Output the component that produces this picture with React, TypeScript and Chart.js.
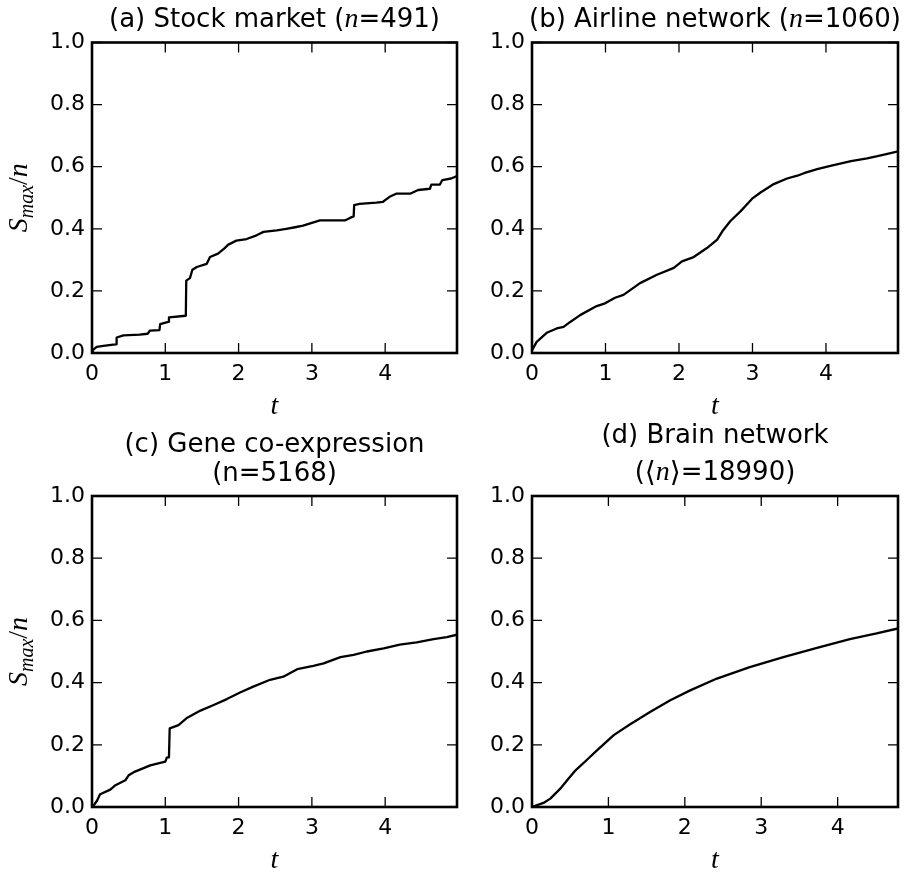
import React, { useEffect, useRef } from 'react';
import { Chart, registerables } from 'chart.js';

Chart.register(...registerables);

// ---------- data ----------
const X_TICKS = [0, 1, 2, 3, 4];
const Y_TICKS = [0, 0.2, 0.4, 0.6, 0.8, 1.0];

// (a) Stock market
const T_A = [0, 0.01, 0.064, 0.155, 0.29, 0.33, 0.336, 0.43, 0.65, 0.76, 0.79, 0.92, 0.93, 1.04, 1.05, 1.28, 1.286, 1.336, 1.37, 1.43, 1.564, 1.61, 1.72, 1.81, 1.86, 1.97, 2.11, 2.245, 2.34, 2.52, 2.65, 2.77, 2.88, 3.0, 3.11, 3.45, 3.52, 3.57, 3.577, 3.65, 3.88, 3.97, 4.06, 4.15, 4.34, 4.45, 4.61, 4.63, 4.745, 4.78, 4.9, 4.98];
const S_A = [0.005, 0.009, 0.02, 0.023, 0.027, 0.028, 0.05, 0.057, 0.059, 0.062, 0.072, 0.074, 0.093, 0.1, 0.115, 0.12, 0.233, 0.241, 0.268, 0.277, 0.287, 0.309, 0.32, 0.338, 0.349, 0.362, 0.367, 0.379, 0.39, 0.395, 0.4, 0.405, 0.41, 0.419, 0.427, 0.427, 0.435, 0.44, 0.476, 0.48, 0.484, 0.487, 0.503, 0.513, 0.513, 0.525, 0.529, 0.542, 0.542, 0.557, 0.562, 0.57];

// (b) Airline network
const T_B = [0, 0.064, 0.2, 0.336, 0.43, 0.52, 0.655, 0.88, 0.995, 1.13, 1.245, 1.47, 1.7, 1.93, 2.04, 2.2, 2.38, 2.52, 2.59, 2.7, 2.84, 2.995, 3.11, 3.29, 3.47, 3.61, 3.7, 3.88, 4.06, 4.34, 4.56, 4.7, 4.88, 4.99];
const S_B = [0.009, 0.036, 0.065, 0.079, 0.084, 0.1, 0.122, 0.151, 0.16, 0.178, 0.187, 0.225, 0.252, 0.274, 0.295, 0.309, 0.338, 0.365, 0.392, 0.425, 0.457, 0.497, 0.517, 0.544, 0.562, 0.571, 0.579, 0.592, 0.603, 0.618, 0.627, 0.634, 0.644, 0.65];

// (c) Gene co-expression
const T_C = [0, 0.014, 0.07, 0.11, 0.25, 0.32, 0.455, 0.5, 0.57, 0.795, 1.0, 1.02, 1.05, 1.06, 1.18, 1.3, 1.48, 1.66, 1.84, 2.02, 2.2, 2.43, 2.61, 2.8, 3.02, 3.16, 3.39, 3.57, 3.75, 3.98, 4.2, 4.43, 4.66, 4.84, 4.98];
const S_C = [0, 0.002, 0.021, 0.041, 0.056, 0.07, 0.086, 0.102, 0.112, 0.134, 0.146, 0.159, 0.16, 0.253, 0.263, 0.287, 0.31, 0.328, 0.347, 0.368, 0.387, 0.409, 0.419, 0.443, 0.454, 0.462, 0.482, 0.489, 0.5, 0.51, 0.522, 0.529, 0.54, 0.546, 0.554];

// (d) Brain network
const T_D = [0, 0.15, 0.24, 0.37, 0.46, 0.57, 0.72, 0.85, 1.07, 1.285, 1.55, 1.81, 2.07, 2.42, 2.85, 3.29, 3.73, 4.16, 4.51, 4.79];
const S_D = [0, 0.013, 0.027, 0.059, 0.086, 0.118, 0.152, 0.182, 0.231, 0.266, 0.306, 0.343, 0.375, 0.413, 0.45, 0.482, 0.512, 0.54, 0.558, 0.574];

const X_MAX_ABC = 4.98;
const X_MAX_D = 4.79;

// ---------- styles ----------
const TITLE_FONT = '26px "DejaVu Sans"';
const MATH_FONT = 'italic 28px "Liberation Serif"';
const BRACKET_FONT = '28px "DejaVu Serif"';
const SUB_FONT = 'italic 20px "Liberation Serif"';
const TICK_FONT = { family: 'DejaVu Sans', size: 22 };

type Run = { t: string; f: string; dy?: number };

function drawRuns(ctx: CanvasRenderingContext2D, runs: Run[], cx: number, baseline: number) {
  let total = 0;
  for (const r of runs) {
    ctx.font = r.f;
    total += ctx.measureText(r.t).width;
  }
  let x = cx - total / 2;
  ctx.textAlign = 'left';
  ctx.textBaseline = 'alphabetic';
  for (const r of runs) {
    ctx.font = r.f;
    ctx.fillText(r.t, x, baseline + (r.dy || 0));
    x += ctx.measureText(r.t).width;
  }
}

const decoPlugin = {
  id: 'deco',
  afterDatasetsDraw(chart: any) {
    const { ctx, chartArea: a, scales } = chart;
    ctx.save();
    ctx.strokeStyle = '#000';
    ctx.lineWidth = 1.3;
    ctx.beginPath();
    for (const v of X_TICKS) {
      const x = scales.x.getPixelForValue(v);
      ctx.moveTo(x, a.bottom);
      ctx.lineTo(x, a.bottom - 10);
      ctx.moveTo(x, a.top);
      ctx.lineTo(x, a.top + 10);
    }
    for (const v of Y_TICKS) {
      const y = scales.y.getPixelForValue(v);
      ctx.moveTo(a.left, y);
      ctx.lineTo(a.left + 10, y);
      ctx.moveTo(a.right, y);
      ctx.lineTo(a.right - 10, y);
    }
    ctx.stroke();
    ctx.lineWidth = 2.6;
    ctx.strokeRect(a.left, a.top, a.right - a.left, a.bottom - a.top);
    ctx.restore();
  },
  afterDraw(chart: any, _args: any, opts: any) {
    const { ctx, chartArea: a } = chart;
    const cx = (a.left + a.right) / 2;
    ctx.save();
    ctx.fillStyle = '#000';
    for (const line of opts.titles || []) {
      drawRuns(ctx, line.runs, cx, line.y);
    }
    // x label
    drawRuns(ctx, [{ t: 't', f: MATH_FONT }], cx, a.bottom + 61);
    // y label
    if (opts.yLabelX != null) {
      ctx.save();
      ctx.translate(opts.yLabelX, (a.top + a.bottom) / 2);
      ctx.rotate(-Math.PI / 2);
      drawRuns(
        ctx,
        [
          { t: 'S', f: MATH_FONT },
          { t: 'max', f: SUB_FONT, dy: 6 },
          { t: '/', f: MATH_FONT.replace('italic ', '') },
          { t: 'n', f: MATH_FONT },
        ],
        0,
        0
      );
      ctx.restore();
    }
    ctx.restore();
  },
};

type PanelCfg = {
  box: { x: number; y: number; w: number; h: number };
  plot: { L: number; R: number; T: number; B: number };
  xMax: number;
  t: number[];
  s: number[];
  titles: { runs: Run[]; y: number }[];
  yLabelX: number | null;
};

const PANELS: PanelCfg[] = [
  {
    box: { x: 0, y: 0, w: 460, h: 420 },
    plot: { L: 92, R: 457, T: 42.5, B: 353 },
    xMax: X_MAX_ABC,
    t: T_A,
    s: S_A,
    titles: [
      {
        runs: [
          { t: '(a) Stock market (', f: TITLE_FONT },
          { t: 'n', f: MATH_FONT },
          { t: '=491)', f: TITLE_FONT },
        ],
        y: 26.5,
      },
    ],
    yLabelX: 27,
  },
  {
    box: { x: 460, y: 0, w: 448, h: 420 },
    plot: { L: 532, R: 898, T: 42.5, B: 353 },
    xMax: X_MAX_ABC,
    t: T_B,
    s: S_B,
    titles: [
      {
        runs: [
          { t: '(b) Airline network (', f: TITLE_FONT },
          { t: 'n', f: MATH_FONT },
          { t: '=1060)', f: TITLE_FONT },
        ],
        y: 26.5,
      },
    ],
    yLabelX: null,
  },
  {
    box: { x: 0, y: 420, w: 460, h: 452 },
    plot: { L: 92, R: 457, T: 496, B: 807 },
    xMax: X_MAX_ABC,
    t: T_C,
    s: S_C,
    titles: [
      { runs: [{ t: '(c) Gene co-expression', f: TITLE_FONT }], y: 452.3 - 420 },
      { runs: [{ t: '(n=5168)', f: TITLE_FONT }], y: 481 - 420 },
    ],
    yLabelX: 27,
  },
  {
    box: { x: 460, y: 420, w: 448, h: 452 },
    plot: { L: 532, R: 898, T: 496, B: 807 },
    xMax: X_MAX_D,
    t: T_D,
    s: S_D,
    titles: [
      { runs: [{ t: '(d) Brain network', f: TITLE_FONT }], y: 443.3 - 420 },
      {
        runs: [
          { t: '(', f: TITLE_FONT },
          { t: '\u27E8', f: BRACKET_FONT, dy: 1 },
          { t: 'n', f: MATH_FONT },
          { t: '\u27E9', f: BRACKET_FONT, dy: 1 },
          { t: '=18990)', f: TITLE_FONT },
        ],
        y: 480 - 420,
      },
    ],
    yLabelX: null,
  },
];

function Panel({ cfg }: { cfg: PanelCfg }) {
  const ref = useRef<HTMLCanvasElement>(null);
  useEffect(() => {
    const { box, plot } = cfg;
    const n = Math.min(cfg.t.length, cfg.s.length);
    const data = [] as { x: number; y: number }[];
    for (let i = 0; i < n; i++) data.push({ x: cfg.t[i], y: cfg.s[i] });
    const chart = new Chart(ref.current as HTMLCanvasElement, {
      type: 'line',
      data: {
        datasets: [
          {
            data,
            borderColor: '#000',
            borderWidth: 2.3,
            pointRadius: 0,
            tension: 0,
            fill: false,
            borderJoinStyle: 'round',
            borderCapStyle: 'round',
          } as any,
        ],
      },
      options: {
        responsive: false,
        animation: false,
        events: [],
        layout: {
          padding: {
            left: 0,
            top: plot.T - box.y,
            right: box.x + box.w - plot.R,
            bottom: 0,
          },
        },
        plugins: {
          legend: { display: false },
          tooltip: { enabled: false },
          title: { display: false },
          deco: { titles: cfg.titles, yLabelX: cfg.yLabelX },
        } as any,
        scales: {
          x: {
            type: 'linear',
            min: 0,
            max: cfg.xMax,
            grid: { display: false, drawTicks: false },
            border: { display: false },
            afterFit: (s: any) => {
              s.height = box.y + box.h - plot.B;
            },
            afterBuildTicks: (s: any) => {
              s.ticks = X_TICKS.map((v) => ({ value: v }));
            },
            ticks: {
              font: TICK_FONT,
              color: '#000',
              padding: 8,
              maxRotation: 0,
              autoSkip: false,
              callback: (v: any) => String(v),
            },
          },
          y: {
            type: 'linear',
            min: 0,
            max: 1,
            grid: { display: false, drawTicks: false },
            border: { display: false },
            afterFit: (s: any) => {
              s.width = plot.L - box.x;
            },
            afterBuildTicks: (s: any) => {
              s.ticks = Y_TICKS.map((v) => ({ value: v }));
            },
            ticks: {
              font: TICK_FONT,
              color: '#000',
              padding: 7,
              autoSkip: false,
              callback: (v: any) => Number(v).toFixed(1),
            },
          },
        },
      },
      plugins: [decoPlugin as any],
    });
    return () => chart.destroy();
  }, [cfg]);
  return (
    <canvas
      ref={ref}
      width={cfg.box.w}
      height={cfg.box.h}
      style={{
        position: 'absolute',
        left: cfg.box.x,
        top: cfg.box.y,
        width: cfg.box.w,
        height: cfg.box.h,
        display: 'block',
      }}
    />
  );
}

export default function App() {
  return (
    <div
      style={{
        position: 'absolute',
        left: 0,
        top: 0,
        width: 908,
        height: 872,
        background: '#fff',
        overflow: 'hidden',
      }}
    >
      {PANELS.map((p, i) => (
        <Panel key={i} cfg={p} />
      ))}
    </div>
  );
}
